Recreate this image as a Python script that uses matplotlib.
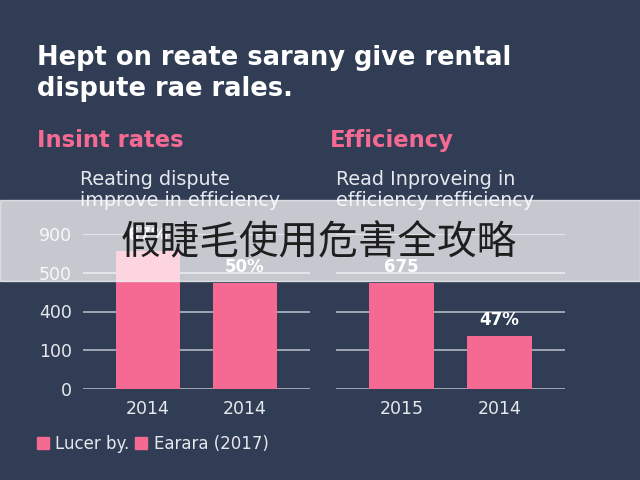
import numpy as np
import matplotlib
matplotlib.use("Agg")
import matplotlib.pyplot as plt
from matplotlib.patches import Patch

# data
left_years = ["2014", "2014"]
left_values = [724, 474]
left_labels = ["67%", "50%"]
right_years = ["2015", "2014"]
right_values = [474, 208]
right_labels = ["675", "47%"]
tick_values = [0, 100, 400, 500, 900]
legend_names = ["Lucer by.", "Earara (2017)"]

BG = "#313d55"
PINK = "#f56a93"
GRID = "#a9afbb"
LIGHT = "#e6e8ee"
W, H = 640, 480

plt.rcParams["font.family"] = ["DejaVu Sans"]

# even spacing between the uneven tick values
tick_pos = np.arange(len(tick_values), dtype=float)
def fwd(v):
    return np.interp(v, tick_values, tick_pos)
def inv(p):
    return np.interp(p, tick_pos, tick_values)

fig = plt.figure(figsize=(6.4, 4.8), dpi=100, facecolor=BG)

def px(x, y):
    return x / W, 1 - y / H

ax1 = fig.add_axes([83 / W, 1 - 389 / H, 227 / W, 155 / H])
ax2 = fig.add_axes([336 / W, 1 - 389 / H, 229 / W, 155 / H])

for ax, years, vals, labs in [(ax1, left_years, left_values, left_labels),
                              (ax2, right_years, right_values, right_labels)]:
    ax.set_facecolor("none")
    ax.set_yscale("function", functions=(fwd, inv))
    ax.set_ylim(0, 900)
    ax.set_yticks(tick_values)
    ax.yaxis.grid(True, color=GRID, linewidth=1.3)
    ax.set_axisbelow(True)
    x = np.arange(len(vals))
    bars = ax.bar(x, vals, width=0.66, color=PINK, zorder=2)
    ax.bar_label(bars, labels=labs, padding=5, color="white",
                 fontsize=12, fontweight="bold")
    ax.set_xlim(-0.67, 1.67)
    ax.set_xticks(x)
    ax.set_xticklabels(years)
    for s in ax.spines.values():
        s.set_visible(False)
    ax.tick_params(axis="x", length=0, pad=8, colors=LIGHT, labelsize=12.5)
    ax.tick_params(axis="y", length=0, pad=8, colors=LIGHT, labelsize=12.5)

ax1.set_yticklabels([str(v) for v in tick_values])
ax2.set_yticklabels([])

# titles
fig.text(*px(37, 45), "Hept on reate sarany give rental\ndispute rae rales.",
         color="white", fontsize=18.5, fontweight="bold", va="top",
         linespacing=1.25)
fig.text(*px(37, 140), "Insint rates", color=PINK, fontsize=16.3,
         fontweight="bold", va="center")
fig.text(*px(330, 140), "Efficiency", color=PINK, fontsize=16.3,
         fontweight="bold", va="center")
fig.text(*px(80, 170), "Reating dispute\nimprove in efficiency", color=LIGHT,
         fontsize=13.8, va="top", linespacing=1.15)
fig.text(*px(336, 170), "Read Inproveing in\nefficiency refficiency",
         color=LIGHT, fontsize=13.8, va="top", linespacing=1.15)

# legend
handles = [Patch(color=PINK, label=n) for n in legend_names]
fig.legend(handles=handles, loc="center left", bbox_to_anchor=px(37, 444),
           ncol=2, frameon=False, fontsize=12, labelcolor=LIGHT,
           handlelength=0.7, handleheight=0.7, handletextpad=0.4,
           columnspacing=0.35, borderaxespad=0, borderpad=0)

# overlay banner
fig.patches.append(plt.Rectangle((0, 1 - 281 / H), 1, 81 / H,
                                 transform=fig.transFigure, color="white",
                                 alpha=0.72, zorder=5))
fig.text(*px(319, 243), "假睫毛使用危害全攻略", ha="center", va="center",
         fontsize=28.5, color="#1e1e1e", zorder=6,
         family=["Noto Sans CJK SC", "DejaVu Sans"])

fig.savefig("out.png", dpi=100, facecolor=BG)
